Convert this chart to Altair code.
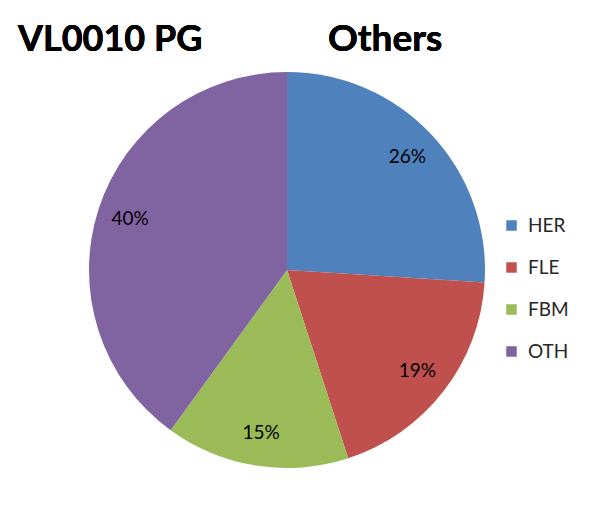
import altair as alt
import pandas as pd

categories = ["HER", "FLE", "FBM", "OTH"]
values = [26, 19, 15, 40]
labels = ["26%", "19%", "15%", "40%"]
colors = ["#4F81BD", "#C0504D", "#9BBB59", "#8064A2"]
order = [0, 1, 2, 3]

df = pd.DataFrame({"cat": categories, "value": values, "label": labels, "ord": order})

CX, CY, R = 279, 262, 198
FONT = "Lato"

base = alt.Chart(df).encode(
    theta=alt.Theta("value:Q", stack=True),
    order=alt.Order("ord:Q"),
    x=alt.value(CX),
    y=alt.value(CY),
)

arcs = base.mark_arc(outerRadius=R, stroke=None).encode(
    color=alt.Color(
        "cat:N",
        scale=alt.Scale(domain=categories, range=colors),
        sort=categories,
        legend=alt.Legend(
            title=None,
            orient="none",
            legendX=494,
            legendY=208,
            symbolType="square",
            symbolSize=110,
            symbolStrokeWidth=0,
            labelFontSize=19,
            labelFont=FONT,
            labelColor="#262626",
            rowPadding=22,
            labelOffset=7,
        ),
    )
)

texts = base.mark_text(radius=165, fontSize=19, font=FONT, color="#000000").encode(
    text="label:N"
)

title1 = alt.Chart(df).mark_text(
    text="VL0010 PG", font=FONT, fontSize=36, fontWeight="bold", align="left",
    baseline="alphabetic", color="#000000"
).encode(x=alt.value(10), y=alt.value(43))

title2 = alt.Chart(df).mark_text(
    text="Others", font=FONT, fontSize=37, fontWeight="bold", align="left",
    baseline="alphabetic", color="#000000"
).encode(x=alt.value(320), y=alt.value(43))

chart = alt.layer(arcs, texts, title1, title2).properties(
    width=573, height=491, autosize=alt.AutoSizeParams(type="none"), padding=0
).configure_view(stroke=None)

chart.save("out.html", embed_options={"renderer": "svg", "actions": False})
